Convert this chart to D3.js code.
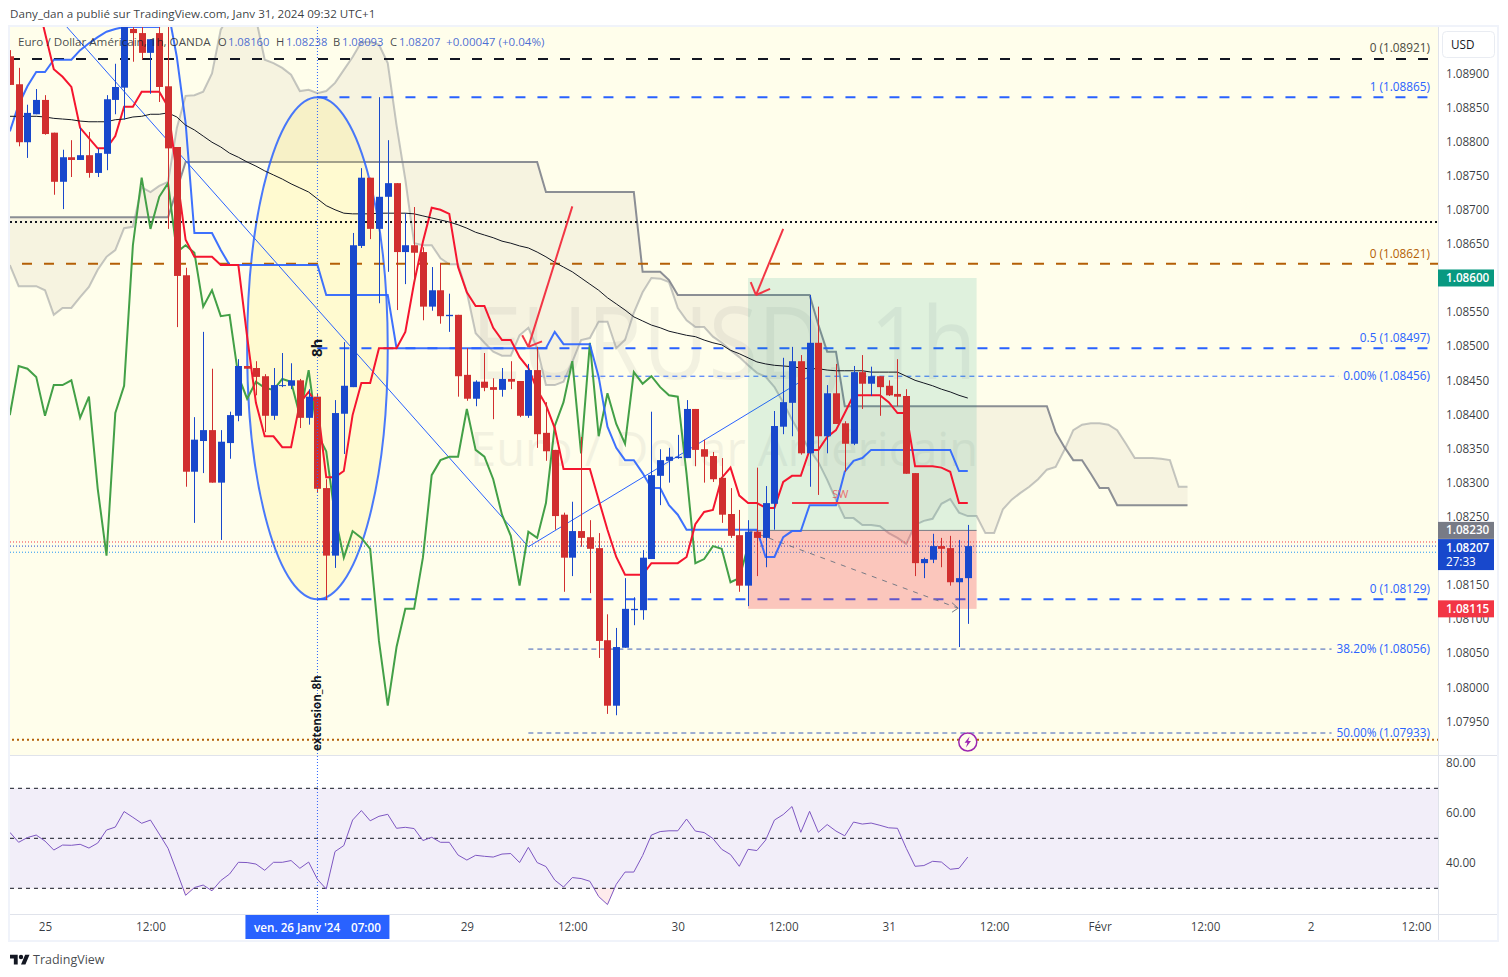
<!DOCTYPE html>
<html>
<head>
<meta charset="utf-8">
<script src="https://cdn.jsdelivr.net/npm/d3@7"></script>
<style>
    html, body { margin: 0; padding: 0; background: #fff; }
    svg { display: block; }
    text { font-family: "Open Sans", "Noto Sans", sans-serif; }
</style>
</head>
<body>
<svg id="chart" width="1508" height="977"></svg>
<script>
// candles, first bar is index -4 (0 is 25 Janv 00:00)
const firstBar = -4;
const opens = [1.08925,1.08884,1.08799,1.08840,1.08861,1.08813,1.08741,1.08777,1.08773,1.08780,1.08754,1.08782,1.08861,1.08879,1.08965,1.08959,1.08930,1.08959,1.08881,1.08792,1.08604,1.08316,1.08361,1.08377,1.08300,1.08358,1.08398,1.08471,1.08468,1.08456,1.08398,1.08442,1.08442,1.08450,1.08395,1.08426,1.08292,1.08193,1.08401,1.08440,1.08647,1.08747,1.08672,1.08719,1.08739,1.08638,1.08648,1.08638,1.08558,1.08582,1.08544,1.08546,1.08458,1.08423,1.08448,1.08440,1.08436,1.08452,1.08449,1.08398,1.08465,1.08373,1.08348,1.08253,1.08190,1.08229,1.08220,1.08204,1.08069,1.07973,1.08058,1.08113,1.08113,1.08188,1.08310,1.08332,1.08336,1.08336,1.08408,1.08349,1.08339,1.08307,1.08254,1.08223,1.08149,1.08228,1.08219,1.08269,1.08382,1.08417,1.08478,1.08343,1.08505,1.08368,1.08431,1.08387,1.08357,1.08462,1.08445,1.08456,1.08442,1.08430,1.08427,1.08314,1.08182,1.08187,1.08207,1.08204,1.08154,1.08160];
const highs = [1.08934,1.08908,1.08854,1.08877,1.08868,1.08813,1.08788,1.08802,1.08820,1.08814,1.08790,1.08868,1.08914,1.08968,1.08968,1.08968,1.08950,1.08968,1.08968,1.08792,1.08615,1.08396,1.08521,1.08467,1.08377,1.08404,1.08481,1.08471,1.08478,1.08459,1.08468,1.08490,1.08475,1.08452,1.08437,1.08430,1.08305,1.08421,1.08506,1.08666,1.08761,1.08747,1.08865,1.08802,1.08739,1.08695,1.08704,1.08645,1.08616,1.08622,1.08577,1.08546,1.08497,1.08450,1.08490,1.08453,1.08468,1.08478,1.08449,1.08474,1.08499,1.08418,1.08348,1.08256,1.08272,1.08367,1.08245,1.08226,1.08107,1.08087,1.08160,1.08132,1.08201,1.08404,1.08349,1.08351,1.08370,1.08421,1.08408,1.08363,1.08345,1.08336,1.08292,1.08260,1.08245,1.08322,1.08295,1.08405,1.08483,1.08499,1.08487,1.08575,1.08558,1.08443,1.08474,1.08390,1.08471,1.08487,1.08470,1.08456,1.08450,1.08481,1.08437,1.08314,1.08190,1.08225,1.08219,1.08222,1.08216,1.08238];
const lows = [1.08883,1.08793,1.08776,1.08840,1.08810,1.08722,1.08701,1.08748,1.08773,1.08747,1.08748,1.08758,1.08840,1.08832,1.08917,1.08920,1.08870,1.08858,1.08672,1.08528,1.08294,1.08241,1.08314,1.08300,1.08216,1.08335,1.08390,1.08467,1.08428,1.08374,1.08392,1.08440,1.08437,1.08380,1.08385,1.08285,1.08128,1.08175,1.08342,1.08440,1.08644,1.08657,1.08563,1.08609,1.08553,1.08591,1.08593,1.08538,1.08552,1.08533,1.08521,1.08426,1.08420,1.08412,1.08434,1.08393,1.08426,1.08437,1.08396,1.08395,1.08351,1.08332,1.08231,1.08140,1.08163,1.08206,1.08138,1.08043,1.07961,1.07959,1.08058,1.08091,1.08099,1.08188,1.08267,1.08300,1.08335,1.08336,1.08324,1.08300,1.08301,1.08241,1.08219,1.08140,1.08119,1.08163,1.08176,1.08231,1.08371,1.08368,1.08341,1.08294,1.08282,1.08343,1.08386,1.08316,1.08355,1.08408,1.08427,1.08398,1.08427,1.08412,1.08313,1.08163,1.08160,1.08182,1.08176,1.08149,1.08059,1.08093];
const closes = [1.08883,1.08799,1.08842,1.08861,1.08811,1.08741,1.08777,1.08773,1.08780,1.08754,1.08783,1.08862,1.08880,1.08968,1.08959,1.08930,1.08950,1.08880,1.08790,1.08603,1.08316,1.08363,1.08377,1.08300,1.08360,1.08399,1.08471,1.08467,1.08455,1.08398,1.08443,1.08443,1.08450,1.08395,1.08426,1.08291,1.08193,1.08402,1.08442,1.08648,1.08747,1.08672,1.08719,1.08739,1.08638,1.08648,1.08637,1.08558,1.08582,1.08544,1.08546,1.08456,1.08423,1.08448,1.08439,1.08436,1.08452,1.08448,1.08398,1.08465,1.08371,1.08346,1.08251,1.08190,1.08229,1.08219,1.08203,1.08068,1.07973,1.08059,1.08115,1.08115,1.08190,1.08311,1.08333,1.08338,1.08338,1.08408,1.08348,1.08338,1.08305,1.08253,1.08222,1.08149,1.08228,1.08219,1.08270,1.08383,1.08418,1.08478,1.08343,1.08505,1.08368,1.08431,1.08386,1.08357,1.08462,1.08445,1.08456,1.08440,1.08428,1.08426,1.08313,1.08182,1.08188,1.08207,1.08203,1.08154,1.08160,1.08207];

// ichimoku
const tenkan = [null,null,null,1.09015,1.08959,1.08906,1.08895,1.08880,1.08820,1.08805,1.08790,1.08790,1.08808,1.08851,1.08851,1.08873,1.08873,1.08873,1.08851,1.08751,1.08656,1.08631,1.08631,1.08631,1.08619,1.08619,1.08619,1.08514,1.08417,1.08368,1.08368,1.08352,1.08352,1.08417,1.08433,1.08414,1.08308,1.08308,1.08317,1.08399,1.08446,1.08446,1.08497,1.08497,1.08497,1.08521,1.08593,1.08653,1.08703,1.08700,1.08694,1.08616,1.08579,1.08559,1.08559,1.08527,1.08509,1.08509,1.08484,1.08468,1.08436,1.08414,1.08380,1.08320,1.08320,1.08320,1.08320,1.08275,1.08231,1.08191,1.08165,1.08165,1.08165,1.08182,1.08182,1.08182,1.08182,1.08191,1.08239,1.08257,1.08260,1.08307,1.08322,1.08281,1.08270,1.08270,1.08263,1.08263,1.08301,1.08310,1.08310,1.08348,1.08348,1.08367,1.08377,1.08402,1.08428,1.08428,1.08428,1.08428,1.08418,1.08402,1.08402,1.08324,1.08324,1.08324,1.08322,1.08316,1.08270,1.08270];
const kijun = [1.08815,1.08854,1.08881,1.08902,1.08902,1.08920,1.08920,1.08920,1.08934,1.08944,1.08953,1.08961,1.08965,1.08968,1.08968,1.08968,1.08968,1.08968,1.08993,1.08924,1.08827,1.08666,1.08666,1.08666,1.08641,1.08619,1.08619,1.08619,1.08619,1.08619,1.08619,1.08619,1.08619,1.08619,1.08619,1.08619,1.08575,1.08575,1.08575,1.08575,1.08575,1.08575,1.08575,1.08575,1.08497,1.08497,1.08497,1.08497,1.08497,1.08497,1.08497,1.08497,1.08497,1.08497,1.08497,1.08497,1.08497,1.08497,1.08497,1.08497,1.08497,1.08497,1.08521,1.08503,1.08503,1.08503,1.08503,1.08455,1.08382,1.08351,1.08333,1.08333,1.08314,1.08292,1.08292,1.08267,1.08253,1.08231,1.08231,1.08231,1.08231,1.08231,1.08231,1.08231,1.08231,1.08231,1.08191,1.08191,1.08220,1.08229,1.08229,1.08267,1.08267,1.08267,1.08267,1.08316,1.08332,1.08336,1.08348,1.08348,1.08348,1.08348,1.08348,1.08348,1.08348,1.08348,1.08348,1.08348,1.08317,1.08317];
const lagging = [1.08399,1.08471,1.08467,1.08455,1.08398,1.08443,1.08443,1.08450,1.08395,1.08426,1.08291,1.08193,1.08402,1.08442,1.08648,1.08747,1.08672,1.08719,1.08739,1.08638,1.08648,1.08637,1.08558,1.08582,1.08544,1.08546,1.08456,1.08423,1.08448,1.08439,1.08436,1.08452,1.08448,1.08398,1.08465,1.08371,1.08346,1.08251,1.08190,1.08229,1.08219,1.08203,1.08068,1.07973,1.08059,1.08115,1.08115,1.08190,1.08311,1.08333,1.08338,1.08338,1.08408,1.08348,1.08338,1.08305,1.08253,1.08222,1.08149,1.08228,1.08219,1.08270,1.08383,1.08418,1.08478,1.08343,1.08505,1.08368,1.08431,1.08386,1.08357,1.08462,1.08445,1.08456,1.08440,1.08428,1.08426,1.08313,1.08182,1.08188,1.08207,1.08203,1.08154,1.08160,1.08207];
const senkouA = [1.08619,1.08588,1.08588,1.08588,1.08582,1.08546,1.08556,1.08556,1.08572,1.08587,1.08612,1.08631,1.08641,1.08673,1.08675,1.08733,1.08726,1.08735,1.08741,1.08820,1.08867,1.08868,1.08873,1.08900,1.08964,1.08986,1.08993,1.09000,1.08981,1.08920,1.08915,1.08908,1.08898,1.08874,1.08876,1.08871,1.08874,1.08886,1.08905,1.08924,1.08946,1.08946,1.08942,1.08915,1.08824,1.08744,1.08651,1.08648,1.08648,1.08629,1.08620,1.08620,1.08579,1.08519,1.08505,1.08492,1.08486,1.08486,1.08516,1.08527,1.08497,1.08443,1.08443,1.08448,1.08477,1.08509,1.08512,1.08536,1.08536,1.08497,1.08509,1.08549,1.08579,1.08600,1.08599,1.08594,1.08556,1.08538,1.08528,1.08528,1.08514,1.08505,1.08494,1.08484,1.08472,1.08461,1.08455,1.08440,1.08417,1.08392,1.08370,1.08348,1.08330,1.08304,1.08275,1.08248,1.08248,1.08238,1.08238,1.08236,1.08226,1.08219,1.08210,1.08238,1.08244,1.08247,1.08269,1.08276,1.08256,1.08251,1.08251,1.08226,1.08226,1.08261,1.08275,1.08285,1.08294,1.08305,1.08319,1.08323,1.08348,1.08377,1.08385,1.08387,1.08387,1.08385,1.08377,1.08357,1.08336,1.08336,1.08336,1.08335,1.08333,1.08294,1.08294];
const senkouB = [1.08689,1.08689,1.08689,1.08689,1.08689,1.08689,1.08689,1.08689,1.08689,1.08689,1.08689,1.08689,1.08689,1.08689,1.08689,1.08689,1.08689,1.08689,1.08689,1.08729,1.08770,1.08770,1.08770,1.08770,1.08770,1.08770,1.08770,1.08770,1.08770,1.08770,1.08770,1.08770,1.08770,1.08770,1.08770,1.08770,1.08770,1.08770,1.08770,1.08770,1.08770,1.08770,1.08770,1.08770,1.08770,1.08770,1.08770,1.08770,1.08770,1.08770,1.08770,1.08770,1.08770,1.08770,1.08770,1.08770,1.08770,1.08770,1.08770,1.08770,1.08770,1.08726,1.08726,1.08726,1.08726,1.08726,1.08726,1.08726,1.08726,1.08726,1.08726,1.08726,1.08609,1.08609,1.08609,1.08597,1.08575,1.08575,1.08575,1.08575,1.08575,1.08575,1.08575,1.08575,1.08575,1.08575,1.08575,1.08575,1.08575,1.08575,1.08575,1.08575,1.08531,1.08492,1.08492,1.08412,1.08412,1.08412,1.08412,1.08412,1.08412,1.08412,1.08412,1.08412,1.08412,1.08412,1.08412,1.08412,1.08412,1.08412,1.08412,1.08412,1.08412,1.08412,1.08412,1.08412,1.08412,1.08412,1.08412,1.08374,1.08352,1.08333,1.08333,1.08313,1.08292,1.08292,1.08267,1.08267,1.08267,1.08267,1.08267,1.08267,1.08267,1.08267,1.08267];
const ema200 = [1.08837,1.08837,1.08837,1.08837,1.08836,1.08834,1.08833,1.08832,1.08830,1.08829,1.08829,1.08829,1.08832,1.08833,1.08836,1.08837,1.08840,1.08840,1.08842,1.08836,1.08824,1.08817,1.08808,1.08799,1.08792,1.08783,1.08777,1.08770,1.08764,1.08757,1.08751,1.08745,1.08738,1.08732,1.08726,1.08716,1.08706,1.08700,1.08695,1.08694,1.08694,1.08694,1.08695,1.08695,1.08695,1.08695,1.08694,1.08691,1.08688,1.08685,1.08682,1.08678,1.08673,1.08667,1.08663,1.08659,1.08654,1.08651,1.08647,1.08644,1.08638,1.08631,1.08623,1.08616,1.08609,1.08600,1.08591,1.08582,1.08571,1.08562,1.08553,1.08543,1.08537,1.08531,1.08527,1.08522,1.08519,1.08516,1.08514,1.08509,1.08505,1.08502,1.08494,1.08489,1.08483,1.08477,1.08474,1.08472,1.08471,1.08470,1.08468,1.08467,1.08467,1.08465,1.08464,1.08464,1.08464,1.08464,1.08462,1.08462,1.08462,1.08462,1.08456,1.08450,1.08446,1.08442,1.08437,1.08433,1.08428,1.08424];
const rsi = [52.4,48.4,50.3,51.3,48.9,45.3,47.3,47.2,47.6,46.1,48.1,53.3,54.5,60.7,58.4,56.0,57.3,51.7,46.0,36.7,27.2,30.3,31.3,29.0,33.1,35.7,40.4,40.3,39.7,37.2,40.4,40.4,41.1,38.0,40.5,33.6,29.7,44.7,47.1,57.3,61.1,57.0,58.8,59.6,54.0,54.4,53.9,49.1,50.4,48.4,48.4,43.3,41.3,43.2,42.8,42.5,43.7,43.9,40.3,46.4,40.3,38.7,33.3,30.5,34.3,33.9,32.8,26.7,23.5,31.6,36.5,36.5,43.1,51.3,52.7,53.0,53.0,57.7,52.9,52.3,49.9,45.6,43.5,38.8,45.6,45.1,49.3,57.3,59.5,62.7,52.4,60.8,52.4,55.5,52.9,51.0,56.5,55.7,56.1,55.2,54.2,54.0,46.0,38.8,39.1,40.8,40.5,37.6,38.0,42.5];

// levels and tags
const priceTicks = [1.089,1.0885,1.088,1.0875,1.087,1.0865,1.0855,1.085,1.0845,1.084,1.0835,1.083,1.0825,1.0815,1.081,1.0805,1.08,1.0795];
const rsiTicks = [80,60,40];
const rsiLevels = [70,50,30];
const timeTicks = [0,12,48,60,72,84,96,108,120,132,144,156];
const timeLabels = ["25","12:00","29","12:00","30","12:00","31","12:00","Févr","12:00","2","12:00"];
const fibThick = [1.08865,1.08497,1.08129];
const fibThin = [1.08456,1.08056,1.07933];
const fibThinNames = ["0.00% (1.08456)","38.20% (1.08056)","50.00% (1.07933)"];
const fibThickNames = ["1 (1.08865)","0.5 (1.08497)","0 (1.08129)"];
const legendPrices = ["1.08160","1.08238","1.08093","1.08207"];

const width = 1508, height = 977;
const paneLeft = 10, paneRight = 1438, mainTop = 27, mainBottom = 755, rsiBottom = 914;
const blue = "#1848cc", red = "#d12f2f", lineBlue = "#2962ff", brown = "#b45f06";

let svg = d3.select("#chart");
let x = d3.scaleLinear().domain([0, 156]).range([45, 1416]);
let y = d3.scaleLinear().domain([1.08921, 1.07933]).range([59, 733]);
let yRsi = d3.scaleLinear().domain([70, 30]).range([788.3, 888.3]);
let barX = (d, k) => x(k + firstBar);

svg.append("rect").attr("width", width).attr("height", height).attr("fill", "#fff");
svg.append("defs").append("clipPath").attr("id", "mainClip").append("rect")
    .attr("x", paneLeft).attr("y", mainTop).attr("width", paneRight - paneLeft).attr("height", mainBottom - mainTop);
svg.select("defs").append("clipPath").attr("id", "below30").append("rect")
    .attr("x", paneLeft).attr("y", yRsi(30)).attr("width", paneRight - paneLeft).attr("height", 40);

svg.append("rect").attr("x", paneLeft).attr("y", mainTop).attr("width", paneRight - paneLeft)
    .attr("height", mainBottom - mainTop).attr("fill", "#fffeeb");

let main = svg.append("g").attr("clip-path", "url(#mainClip)");

// watermark
main.append("text").attr("x", 724).attr("y", 379).attr("text-anchor", "middle")
    .attr("font-size", 100).attr("fill", "#131722").attr("opacity", 0.05)
    .attr("textLength", 505).attr("lengthAdjust", "spacingAndGlyphs").text("EURUSD, 1h");
main.append("text").attr("x", 724).attr("y", 466).attr("text-anchor", "middle")
    .attr("font-size", 48).attr("fill", "#131722").attr("opacity", 0.05)
    .attr("textLength", 508).attr("lengthAdjust", "spacingAndGlyphs").text("Euro / Dollar Américain");

// cloud
main.append("path").datum(senkouA)
    .attr("d", d3.area().x(barX).y0(d => y(d)).y1((d, k) => y(senkouB[k])))
    .attr("fill", "#86796a").attr("fill-opacity", 0.08);
main.append("path").datum(senkouA)
    .attr("d", d3.line().x(barX).y(d => y(d)))
    .attr("fill", "none").attr("stroke", "#787b86").attr("stroke-opacity", 0.42).attr("stroke-width", 2);
main.append("path").datum(senkouB)
    .attr("d", d3.line().x(barX).y(d => y(d)))
    .attr("fill", "none").attr("stroke", "#787b86").attr("stroke-opacity", 0.85).attr("stroke-width", 2);

// ellipse
main.append("ellipse")
    .attr("cx", x(31)).attr("cy", (y(1.08865) + y(1.08129)) / 2)
    .attr("rx", x(39) - x(31)).attr("ry", (y(1.08129) - y(1.08865)) / 2)
    .attr("fill", "#ffe964").attr("fill-opacity", 0.2)
    .attr("stroke", "#2962ff").attr("stroke-opacity", 0.85).attr("stroke-width", 2);

// fib and level lines
let hline = (price, from, to, color, w, dash) => main.append("line")
    .attr("x1", from).attr("x2", to).attr("y1", y(price)).attr("y2", y(price))
    .attr("stroke", color).attr("stroke-width", w).attr("stroke-dasharray", dash);

hline(1.08921, paneLeft, 1430, "#131722", 2, "10 12");
hline(1.08682, paneLeft, paneRight, "#131722", 2, "2 3");
hline(1.08621, 22, paneRight, brown, 2, "10 12");
hline(1.07923, 12, paneRight, brown, 2, "2 3");
fibThick.forEach(p => hline(p, x(31), 1430, lineBlue, 2, "10 12"));
hline(1.08456, x(55), 1436, lineBlue, 1, "5 4");
hline(1.08056, x(55), 1436, "#3f5fb8", 1, "5 4");
hline(1.07933, x(55), 1436, "#3f5fb8", 1, "5 4");
hline(1.08213, paneLeft, paneRight, "#f23645", 1, "1 2");
hline(1.08207, paneLeft, paneRight, blue, 1, "1 2");
hline(1.08198, paneLeft, paneRight, "#2196f3", 1, "1 2");

// trend lines
let seg = (i1, p1, i2, p2, color, w, dash) => main.append("line")
    .attr("x1", x(i1)).attr("x2", x(i2)).attr("y1", y(p1)).attr("y2", y(p2))
    .attr("stroke", color).attr("stroke-width", w).attr("stroke-dasharray", dash);

seg(2, 1.08975, 55, 1.08206, lineBlue, 1);
seg(55, 1.08206, 87, 1.08456, lineBlue, 1);

// long position box
main.append("rect").attr("x", x(80)).attr("width", x(106) - x(80))
    .attr("y", y(1.086)).attr("height", y(1.0823) - y(1.086))
    .attr("fill", "#089981").attr("fill-opacity", 0.13);
main.append("rect").attr("x", x(80)).attr("width", x(106) - x(80))
    .attr("y", y(1.0823)).attr("height", y(1.08115) - y(1.0823))
    .attr("fill", "#f23645").attr("fill-opacity", 0.28);
main.append("line").attr("x1", x(80)).attr("x2", x(106)).attr("y1", y(1.0823)).attr("y2", y(1.0823))
    .attr("stroke", "#787b86").attr("stroke-width", 1);
seg(80, 1.0823, 103.9, 1.08116, "#787b86", 1, "5 6");
seg(103.2, 1.0811, 103.9, 1.08116, "#787b86", 1);
seg(103.2, 1.08124, 103.9, 1.08116, "#787b86", 1);

// ichimoku lines and ema
let seriesLine = d3.line().defined(d => d !== null).x(barX).y(d => y(d));
main.append("path").datum(lagging).attr("d", seriesLine)
    .attr("fill", "none").attr("stroke", "#43a047").attr("stroke-width", 2);
main.append("path").datum(kijun).attr("d", seriesLine)
    .attr("fill", "none").attr("stroke", "#2962ff").attr("stroke-opacity", 0.9).attr("stroke-width", 2);
main.append("path").datum(tenkan).attr("d", seriesLine)
    .attr("fill", "none").attr("stroke", "#f5152f").attr("stroke-width", 2);
main.append("path").datum(ema200).attr("d", seriesLine)
    .attr("fill", "none").attr("stroke", "#131722").attr("stroke-width", 1);

// red arrows and swing mark
seg(60, 1.08705, 55, 1.08499, "#f23645", 2);
seg(54.3, 1.08516, 55, 1.08499, "#f23645", 2);
seg(56.55, 1.08507, 55, 1.08499, "#f23645", 2);
seg(84, 1.08672, 80.9, 1.08575, "#f23645", 2);
seg(80.3, 1.08594, 80.9, 1.08575, "#f23645", 2);
seg(82.5, 1.08584, 80.9, 1.08575, "#f23645", 2);
seg(85, 1.0827, 96, 1.0827, "#f23645", 2);
main.append("text").attr("x", x(90.5)).attr("y", 498).attr("text-anchor", "middle")
    .attr("font-size", 11).attr("fill", "#f23645").attr("opacity", 0.7).text("SW");

// candles
let candle = main.selectAll(".candle").data(opens).enter().append("g").attr("class", "candle");
candle.append("line")
    .attr("x1", (d, k) => Math.round(barX(d, k)) + 0.5).attr("x2", (d, k) => Math.round(barX(d, k)) + 0.5)
    .attr("y1", (d, k) => y(highs[k])).attr("y2", (d, k) => y(lows[k]))
    .attr("stroke", (d, k) => closes[k] >= d ? blue : red).attr("stroke-width", 1);
candle.append("rect")
    .attr("x", (d, k) => Math.round(barX(d, k)) - 3)
    .attr("width", 7)
    .attr("y", (d, k) => y(Math.max(d, closes[k])))
    .attr("height", (d, k) => Math.max(1, Math.abs(y(d) - y(closes[k]))))
    .attr("fill", (d, k) => closes[k] >= d ? blue : red);

// crosshair-like vertical line
svg.append("line").attr("x1", x(31)).attr("x2", x(31)).attr("y1", mainTop).attr("y2", rsiBottom)
    .attr("stroke", lineBlue).attr("stroke-width", 1).attr("stroke-dasharray", "1 2");

// vertical notes
svg.append("text").attr("transform", `translate(${x(31) + 5},357) rotate(-90)`)
    .attr("font-size", 15).attr("font-weight", 700).attr("fill", "#131722").text("8h");
svg.append("text").attr("transform", `translate(${x(31) + 4},751) rotate(-90)`)
    .attr("font-size", 11.5).attr("font-weight", 700).attr("fill", "#131722").text("extension_8h");

// level labels
let levelLabel = (txt, price, color, shift, bg) => {
    let t = svg.append("text").attr("x", 1430).attr("y", y(price) + shift).attr("text-anchor", "end")
        .attr("font-size", 11.8).attr("fill", color).text(txt);
    if (bg) {
        let b = t.node().getBBox();
        svg.insert("rect", () => t.node()).attr("x", b.x - 5).attr("y", y(price) - 3)
            .attr("width", b.width + 9).attr("height", 6).attr("fill", "#fffeeb");
    }
};
levelLabel("0 (1.08921)", 1.08921, "#4a4a40", -7);
levelLabel("0 (1.08621)", 1.08621, brown, -6);
fibThick.forEach((p, k) => levelLabel(fibThickNames[k], p, lineBlue, -6));
fibThin.forEach((p, k) => levelLabel(fibThinNames[k], p, lineBlue, 4, true));

// lightning mark
let markX = x(105);
svg.append("circle").attr("cx", markX).attr("cy", 742).attr("r", 9)
    .attr("fill", "#fffeeb").attr("stroke", "#9c27b0").attr("stroke-width", 1.5);
svg.append("path").attr("transform", `translate(${markX},742)`)
    .attr("d", "M1.8 -5.5 L-3.2 0.8 L-0.4 0.8 L-1.8 5.5 L3.2 -1 L0.4 -1 Z").attr("fill", "#9c27b0");

// legend
let legend = svg.append("text").attr("y", 46).attr("font-size", 11.2).attr("fill", "#131722").attr("fill-opacity", 0.8);
legend.append("tspan").attr("x", 18).attr("font-size", 11.65).text("Euro / Dollar Américain, 1h, OANDA");
["O", "H", "B", "C"].forEach((n, k) => {
    legend.append("tspan").attr("x", [218, 276, 333, 390][k]).text(n);
    legend.append("tspan").attr("x", [228, 286, 342, 399][k]).attr("fill", blue).text(legendPrices[k]);
});
legend.append("tspan").attr("x", 446).attr("fill", blue).attr("font-size", 11.6).text("+0.00047 (+0.04%)");

// rsi pane
svg.append("rect").attr("x", paneLeft).attr("width", paneRight - paneLeft)
    .attr("y", yRsi(70)).attr("height", yRsi(30) - yRsi(70)).attr("fill", "#7e57c2").attr("fill-opacity", 0.1);
rsiLevels.forEach(v => svg.append("line")
    .attr("x1", paneLeft).attr("x2", paneRight).attr("y1", yRsi(v)).attr("y2", yRsi(v))
    .attr("stroke", "#131722").attr("stroke-width", 1).attr("stroke-dasharray", "4 4"));
svg.append("path").datum(rsi)
    .attr("clip-path", "url(#below30)")
    .attr("d", d3.area().x(barX).y0(yRsi(30)).y1(d => yRsi(d)))
    .attr("fill", "#f23645").attr("fill-opacity", 0.1);
svg.append("path").datum(rsi)
    .attr("d", d3.line().x(barX).y(d => yRsi(d)))
    .attr("fill", "none").attr("stroke", "#7e57c2").attr("stroke-width", 1);

// frame
svg.append("rect").attr("x", 9).attr("y", 26).attr("width", 1489).attr("height", 915)
    .attr("fill", "none").attr("stroke", "#f0f3fa").attr("stroke-width", 2);
svg.append("line").attr("x1", paneLeft).attr("x2", 1497).attr("y1", mainBottom + 0.5).attr("y2", mainBottom + 0.5).attr("stroke", "#e0e3eb");
svg.append("line").attr("x1", paneLeft).attr("x2", 1497).attr("y1", rsiBottom + 0.5).attr("y2", rsiBottom + 0.5).attr("stroke", "#e0e3eb");
svg.append("line").attr("x1", paneRight + 0.5).attr("x2", paneRight + 0.5).attr("y1", mainTop).attr("y2", 940).attr("stroke", "#e0e3eb");

// axes
let priceAxis = d3.axisRight(y).tickValues(priceTicks).tickSize(0).tickPadding(8).tickFormat(d3.format(".5f"));
let priceG = svg.append("g").attr("transform", `translate(${paneRight},0)`).call(priceAxis);
let rsiAxis = d3.axisRight(yRsi).tickValues(rsiTicks).tickSize(0).tickPadding(8).tickFormat(d3.format(".2f"));
let rsiG = svg.append("g").attr("transform", `translate(${paneRight},-1)`).call(rsiAxis);
let timeAxis = d3.axisBottom(x).tickValues(timeTicks).tickSize(0).tickPadding(9).tickFormat((d, k) => timeLabels[k]);
let timeG = svg.append("g").attr("transform", `translate(0,${rsiBottom})`).call(timeAxis);
[priceG, rsiG, timeG].forEach(g => {
    g.select(".domain").remove();
    g.selectAll("text").attr("font-size", 11.7).attr("font-family", "\"Open Sans\", sans-serif").attr("fill", "#131722").attr("fill-opacity", 0.85);
});

// usd box
svg.append("rect").attr("x", 1442.5).attr("y", 31.5).attr("width", 52).attr("height", 26).attr("rx", 4)
    .attr("fill", "#fff").attr("stroke", "#e9ecf2");
svg.append("text").attr("x", 1451).attr("y", 49).attr("font-size", 11.7).attr("fill", "#131722").text("USD");

// price tags
let tag = (price, color, h, txt, sub) => {
    let top = sub ? y(price) - 7 : y(price) - h / 2;
    svg.append("rect").attr("x", paneRight).attr("y", top).attr("width", 56).attr("height", h).attr("fill", color);
    svg.append("text").attr("x", 1446).attr("y", top + 12.5).attr("font-size", 11.7).attr("font-weight", 600).attr("fill", "#fff").text(txt);
    if (sub) svg.append("text").attr("x", 1446).attr("y", top + 26.5).attr("font-size", 11.7).attr("fill", "#fff").text(sub);
};
tag(1.086, "#089981", 17, "1.08600");
tag(1.0823, "#787b86", 17, "1.08230");
tag(1.08207, blue, 31, "1.08207", "27:33");
tag(1.08115, "#f23645", 17, "1.08115");

// crosshair time label
svg.append("rect").attr("x", x(31) - 72).attr("y", rsiBottom + 1).attr("width", 144).attr("height", 24).attr("fill", lineBlue);
svg.append("text").attr("x", 254).attr("y", 932).attr("font-size", 11.7).attr("font-weight", 600).attr("fill", "#fff").text("ven. 26 Janv '24");
svg.append("text").attr("x", 351).attr("y", 932).attr("font-size", 11.7).attr("font-weight", 600).attr("fill", "#fff").text("07:00");

// header and footer
svg.append("text").attr("x", 10).attr("y", 18).attr("font-size", 11.65).attr("fill", "#131722").attr("fill-opacity", 0.85)
    .text("Dany_dan a publié sur TradingView.com, Janv 31, 2024 09:32 UTC+1");
svg.append("path").attr("transform", "translate(10,952.5) scale(0.55)")
    .attr("d", "M14 22H7V11H0V4h14v18zM28 22h-8l7.5-18h8L28 22z").attr("fill", "#131722");
svg.append("circle").attr("cx", 21).attr("cy", 957).attr("r", 2.2).attr("fill", "#131722");
svg.append("text").attr("x", 33).attr("y", 964).attr("font-size", 12.5).attr("fill", "#131722").attr("fill-opacity", 0.8).text("TradingView");
</script>
</body>
</html>
